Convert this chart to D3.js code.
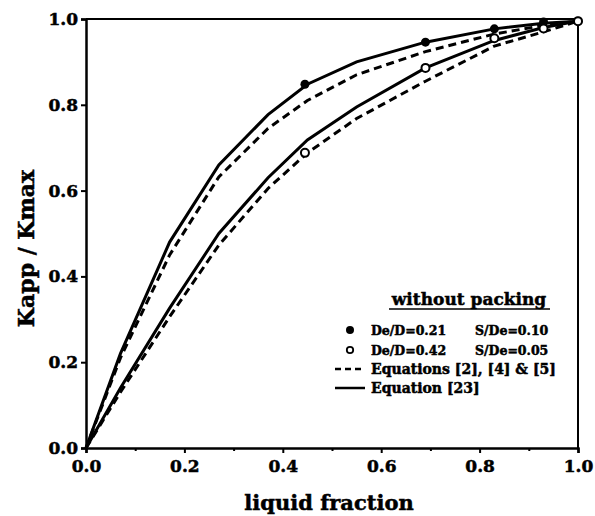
<!DOCTYPE html>
<html>
<head>
<meta charset="utf-8">
<script src="https://cdn.jsdelivr.net/npm/d3@7"></script>
<style>
  html, body { margin: 0; padding: 0; background: #fff; }
  svg { display: block; }
  text { font-family: "DejaVu Serif", serif; font-weight: bold; fill: #000; stroke: #000; stroke-width: 0.5px; }
</style>
</head>
<body>
<svg id="chart" width="595" height="516"></svg>
<script>
// ---- data ----
const xGrid = [0, 0.07, 0.17, 0.27, 0.37, 0.45, 0.55, 0.69, 0.83, 0.93, 1.0];
const upperSolid  = [0, 0.22, 0.48, 0.66, 0.777, 0.848, 0.90, 0.946, 0.977, 0.99, 0.995];
const upperDashed = [0, 0.21, 0.45, 0.632, 0.745, 0.81, 0.87, 0.924, 0.965, 0.985, 0.995];
const lowerSolid  = [0, 0.14, 0.326, 0.50, 0.63, 0.718, 0.795, 0.886, 0.95, 0.98, 0.995];
const lowerDashed = [0, 0.13, 0.306, 0.473, 0.605, 0.688, 0.768, 0.855, 0.937, 0.97, 0.995];

const pointX = [0.445, 0.69, 0.83, 0.93, 1.0];
const filledY = [0.848, 0.946, 0.977, 0.993, 0.995];
const openY   = [0.688, 0.886, 0.955, 0.978, 0.995];

const xTicks = [0, 0.2, 0.4, 0.6, 0.8, 1.0];
const xMinorTicks = [0.1, 0.3, 0.5, 0.7, 0.9];
const yTicks = [0, 0.2, 0.4, 0.6, 0.8, 1.0];

const xLabel = "liquid fraction";
const yLabel = "Kapp / Kmax";
const legendTitle = "without packing";
const legendRows = [
  { kind: "filled", a: "De/D=0.21", b: "S/De=0.10" },
  { kind: "open",   a: "De/D=0.42", b: "S/De=0.05" },
  { kind: "dashed", a: "Equations [2], [4] & [5]" },
  { kind: "solid",  a: "Equation [23]" }
];

// ---- layout ----
const svg = d3.select("#chart");
const m = { left: 86, right: 17, top: 19, bottom: 68 };
const W = 595, H = 516;
const x = d3.scaleLinear().domain([0, 1]).range([m.left, W - m.right]);
const y = d3.scaleLinear().domain([0, 1]).range([H - m.bottom, m.top]);

// frame (top and right)
svg.append("line").attr("x1", x(0)).attr("x2", x(1)).attr("y1", y(1)).attr("y2", y(1))
  .attr("stroke", "#000").attr("stroke-width", 2);
svg.append("line").attr("x1", x(1)).attr("x2", x(1)).attr("y1", y(1)).attr("y2", y(0))
  .attr("stroke", "#000").attr("stroke-width", 2);

// axes
const xAxis = svg.append("g").attr("transform", `translate(0,${y(0)})`)
  .call(d3.axisBottom(x).tickValues(xTicks).tickFormat(d3.format(".1f")).tickSize(5).tickPadding(7));
const xMinor = svg.append("g").attr("transform", `translate(0,${y(0)})`)
  .call(d3.axisBottom(x).tickValues(xMinorTicks).tickFormat("").tickSize(3));
const yAxis = svg.append("g").attr("transform", `translate(${x(0)},0)`)
  .call(d3.axisLeft(y).tickValues(yTicks).tickFormat(d3.format(".1f")).tickSize(5).tickPadding(3));

[xAxis, xMinor, yAxis].forEach(g => {
  g.select(".domain").attr("stroke", "#000").attr("stroke-width", 2.5);
  g.selectAll(".tick line").attr("stroke", "#000").attr("stroke-width", 2);
  g.selectAll(".tick text").style("font-family", "'DejaVu Serif', serif")
    .style("font-weight", "bold").style("font-size", "17px").attr("fill", "#000")
    .attr("stroke", "#000").attr("stroke-width", 0.5);
});
xMinor.select(".domain").remove();

// axis labels
svg.append("text").attr("x", (x(0) + x(1)) / 2 - 3).attr("y", 510)
  .attr("text-anchor", "middle").style("font-size", "21px").text(xLabel);
svg.append("text").attr("transform", `translate(34,${(y(0) + y(1)) / 2 + 15}) rotate(-90)`)
  .attr("text-anchor", "middle").style("font-size", "22px").text(yLabel);

// curves
const line = d3.line().x(d => x(d[0])).y(d => y(d[1]));
const curves = [
  { ys: upperSolid, dash: null },
  { ys: upperDashed, dash: "8,5" },
  { ys: lowerSolid, dash: null },
  { ys: lowerDashed, dash: "8,5" }
];
curves.forEach(c => {
  svg.append("path").datum(xGrid.map((xv, i) => [xv, c.ys[i]]))
    .attr("d", line).attr("fill", "none").attr("stroke", "#000")
    .attr("stroke-width", 3).attr("stroke-dasharray", c.dash);
});

// points
svg.selectAll("circle.filled").data(pointX.map((xv, i) => [xv, filledY[i]])).enter()
  .append("circle").attr("cx", d => x(d[0])).attr("cy", d => y(d[1])).attr("r", 4.5)
  .attr("fill", "#000");
svg.selectAll("circle.open").data(pointX.map((xv, i) => [xv, openY[i]])).enter()
  .append("circle").attr("cx", d => x(d[0])).attr("cy", d => y(d[1])).attr("r", 4)
  .attr("fill", "#fff").attr("stroke", "#000").attr("stroke-width", 2);

// legend
const lg = svg.append("g");
lg.append("text").attr("x", 469).attr("y", 305).attr("text-anchor", "middle")
  .style("font-size", "17px").text(legendTitle);
lg.append("line").attr("x1", 389).attr("x2", 550).attr("y1", 309).attr("y2", 309)
  .attr("stroke", "#000").attr("stroke-width", 1.5);

const rowY = [335, 355, 374, 393];
const rowSize = ["12.5px", "12.5px", "14px", "14px"];
legendRows.forEach((r, i) => {
  const yy = rowY[i];
  if (r.kind === "filled") {
    lg.append("circle").attr("cx", 350).attr("cy", yy - 5).attr("r", 4).attr("fill", "#000");
  } else if (r.kind === "open") {
    lg.append("circle").attr("cx", 350).attr("cy", yy - 5).attr("r", 3.2).attr("fill", "#fff")
      .attr("stroke", "#000").attr("stroke-width", 1.8);
  } else {
    lg.append("line").attr("x1", 335).attr("x2", 365).attr("y1", yy - 5).attr("y2", yy - 5)
      .attr("stroke", "#000").attr("stroke-width", 2.5)
      .attr("stroke-dasharray", r.kind === "dashed" ? "6,4" : null);
  }
  lg.append("text").attr("x", 371).attr("y", yy).style("font-size", rowSize[i]).text(r.a);
  if (r.b) lg.append("text").attr("x", 475).attr("y", yy).style("font-size", rowSize[i]).text(r.b);
});
</script>
</body>
</html>
